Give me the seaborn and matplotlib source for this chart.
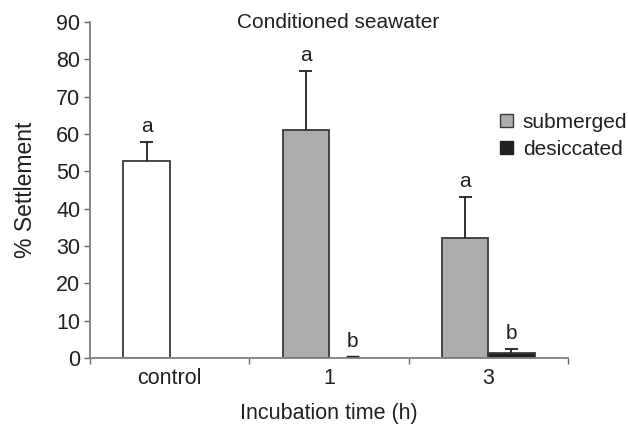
import numpy as np
import pandas as pd
import matplotlib
matplotlib.use("Agg")
import matplotlib.pyplot as plt
import seaborn as sns
from matplotlib.patches import Patch

categories = ["control", "1", "3"]
treatments = ["submerged", "desiccated"]
submerged_vals = [52.7, 61.1, 32.2]
submerged_err = [5.2, 15.7, 11.0]
desiccated_vals = [np.nan, 0.0, 1.3]
desiccated_err = [np.nan, 0.3, 1.0]
letters_sub = ["a", "a", "a"]
letters_des = [None, "b", "b"]

sns.set_theme(style="ticks")
plt.rcParams["font.family"] = ["Liberation Sans", "DejaVu Sans"]

df = pd.DataFrame({
    "cat": categories * 2,
    "treat": ["submerged"] * 3 + ["desiccated"] * 3,
    "val": submerged_vals + desiccated_vals,
})

fig = plt.figure(figsize=(6.28, 4.30), dpi=100)
ax = fig.add_axes([90/628, (430-358)/430, (568-90)/628, (358-22)/430])

sns.barplot(data=df, x="cat", y="val", hue="treat", order=categories,
            hue_order=treatments, palette={"submerged": "#abacb0", "desiccated": "#231f20"},
            width=0.58, errorbar=None, edgecolor="#3a3a3a", linewidth=1.3,
            ax=ax, legend=False)

ecol = "#231f20"
capw = 0.041
txtcol = "#231f20"


def draw_err(xc, v, e, lw=1.3):
    ax.vlines(xc, v, v + e, color=ecol, lw=lw)
    ax.hlines(v + e, xc - capw, xc + capw, color=ecol, lw=lw)


for p in ax.containers[0]:
    xc = p.get_x() + p.get_width() / 2
    i = int(round(xc))
    if i == 0:
        p.set_facecolor("white")
    v, e = submerged_vals[i], submerged_err[i]
    draw_err(xc, v, e)
    ax.text(xc, v + e + 1.6, letters_sub[i], ha="center", va="bottom",
            fontsize=15, color=txtcol)

for p in ax.containers[1]:
    xc = p.get_x() + p.get_width() / 2
    i = int(round(xc))
    v = desiccated_vals[i]
    if v != v:
        continue
    if v == 0:
        p.set_linewidth(0)
    e = desiccated_err[i]
    draw_err(xc, v, e, lw=1.3 if e > 0.5 else 2.4)
    ax.text(xc, v + e + 1.6, letters_des[i], ha="center", va="bottom",
            fontsize=15, color=txtcol)

ax.set_xlim(-0.5, 2.5)
ax.set_ylim(0, 90)
ax.set_yticks(np.arange(0, 91, 10))
ax.set_xticks([-0.5, 0.5, 1.5, 2.5], minor=True)
ax.tick_params(axis="x", which="major", length=0, labelsize=15.5, pad=7, labelcolor=txtcol)
ax.tick_params(axis="x", which="minor", length=4, width=1, color="#666666", direction="out")
ax.tick_params(axis="y", length=4, width=1, color="#666666", labelsize=15.5, pad=3,
               labelcolor=txtcol)
for s in ["top", "right"]:
    ax.spines[s].set_visible(False)
for s in ["left", "bottom"]:
    ax.spines[s].set_color("#808080")
    ax.spines[s].set_linewidth(1.3)

ax.set_xlabel("Incubation time (h)", fontsize=15.5, labelpad=10, color=txtcol)
ax.set_ylabel("% Settlement", fontsize=16.5, labelpad=14, color=txtcol)
ax.text(0.52, 1.0, "Conditioned seawater", transform=ax.transAxes, ha="center",
        va="center", fontsize=15, color=txtcol)

handles = [Patch(facecolor="#abacb0", edgecolor="#3a3a3a", linewidth=1.0, label="submerged"),
           Patch(facecolor="#231f20", edgecolor="#231f20", label="desiccated")]
fig.legend(handles=handles, loc="center left", bbox_to_anchor=(500/628, 1 - 136/430),
           frameon=False, fontsize=15, handlelength=0.6, handleheight=0.6,
           handletextpad=0.5, labelspacing=0.4, borderpad=0, borderaxespad=0,
           labelcolor=txtcol)

fig.savefig("out.png", dpi=100)
